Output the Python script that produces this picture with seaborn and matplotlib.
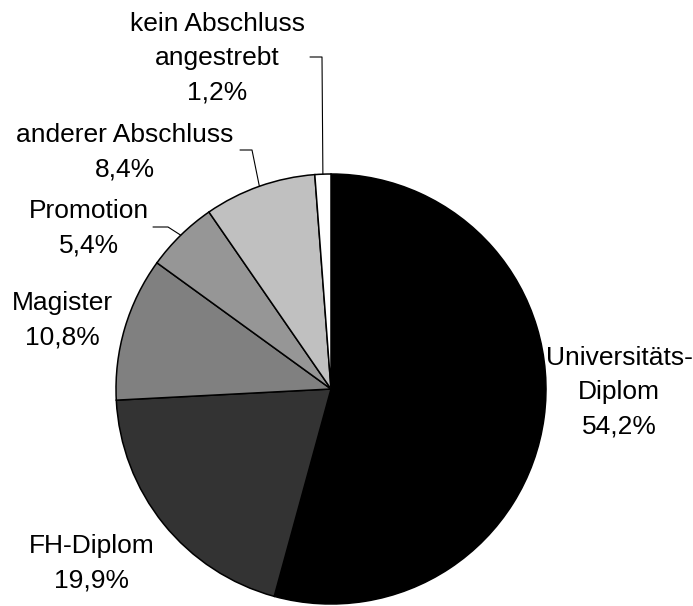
import numpy as np
import matplotlib
matplotlib.use("Agg")
import matplotlib.pyplot as plt
import seaborn as sns

sns.set_theme(style="white")
plt.rcParams['font.family'] = ['Liberation Sans', 'DejaVu Sans']

# data
categories = ["Universitäts-\nDiplom", "FH-Diplom", "Magister", "Promotion",
              "anderer Abschluss", "kein Abschluss\nangestrebt"]
shares = [54.2, 19.9, 10.8, 5.4, 8.4, 1.2]
colors = ["#000000", "#333333", "#808080", "#969696", "#c0c0c0", "#ffffff"]

W, H = 693, 606
fig = plt.figure(figsize=(W / 100, H / 100), dpi=100)
ax = fig.add_axes([0, 0, 1, 1])
ax.axis("off")

# pie in pixel coordinates (y axis inverted, so angles run the other way)
cx, cy, r = 331, 389, 215
wedges, _ = ax.pie(shares, colors=colors, startangle=-90, counterclock=True,
                   radius=r, center=(cx, cy),
                   wedgeprops=dict(edgecolor="black", linewidth=1.1))
ax.set_xlim(0, W)
ax.set_ylim(H, 0)
ax.set_aspect("equal")

# label positions (pixel coords, centre of text block)
label_pos = [(619, 392), (92, 563), (62, 320), (89, 228), (125, 152), (217, 58)]
fs = 19
for name, val, (x, y) in zip(categories, shares, label_pos):
    txt = f"{name}\n{val:.1f}%".replace(".", ",")
    ax.text(x, y, txt, ha="center", va="center", fontsize=fs,
            linespacing=1.55, color="black")

# leader lines for the small slices
leaders = {3: [(168, 227), (153, 227)], 4: [(252, 150), (240, 150)],
           5: [(322, 57), (310, 57)]}
for i, pts in leaders.items():
    w = wedges[i]
    mid = np.deg2rad((w.theta1 + w.theta2) / 2)
    ex, ey = cx + r * np.cos(mid), cy + r * np.sin(mid)
    xs = [ex] + [p[0] for p in pts]
    ys = [ey] + [p[1] for p in pts]
    ax.plot(xs, ys, color="black", linewidth=0.8)

fig.savefig("out.png", dpi=100, facecolor="white")
